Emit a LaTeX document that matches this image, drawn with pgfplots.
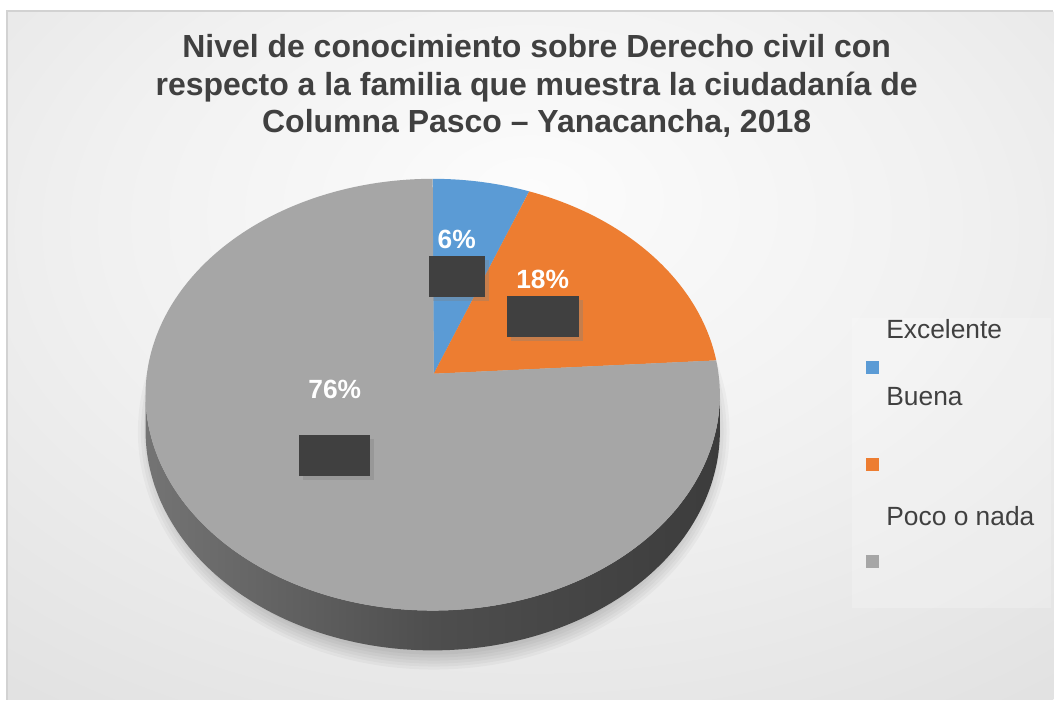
\documentclass[border=0pt]{standalone}
\usepackage{pgfplots}
\pgfplotsset{compat=1.18}
\usepackage{pgfplotstable}
\usepackage{fontspec}
\setmainfont{Liberation Sans}
\usetikzlibrary{shadows}

\definecolor{cBlue}{HTML}{5B9BD5}
\definecolor{cOrange}{HTML}{ED7D31}
\definecolor{cGray}{HTML}{A6A6A6}
\definecolor{txt}{HTML}{404040}
\definecolor{boxc}{HTML}{404040}
\definecolor{sideL}{HTML}{747474}
\definecolor{sideM}{HTML}{4E4E4E}
\definecolor{sideR}{HTML}{3C3C3C}
\definecolor{bg0}{HTML}{FCFCFC}
\definecolor{bg1}{HTML}{F1F1F1}
\definecolor{bg2}{HTML}{E2E2E2}
\definecolor{bg3}{HTML}{D5D5D5}
\definecolor{bg4}{HTML}{C8C8C8}

\pgfdeclareradialshading{bgshade}{\pgfpoint{0bp}{12bp}}{%
  color(0bp)=(bg0); color(20bp)=(bg1); color(40bp)=(bg2); color(62bp)=(bg3); color(80bp)=(bg4); color(100bp)=(bg4)}

\pgfplotstableread{
cat pct
Excelente 6
Buena 18
Poco 76
}\piedata

\begin{document}
\begin{tikzpicture}
\pgfplotstablegetelem{0}{pct}\of\piedata \edef\pA{\pgfplotsretval}
\pgfplotstablegetelem{1}{pct}\of\piedata \edef\pB{\pgfplotsretval}
\pgfplotstablegetelem{2}{pct}\of\piedata \edef\pC{\pgfplotsretval}
\pgfmathsetmacro\aA{3.6*\pA}
\pgfmathsetmacro\aB{\aA+3.6*\pB}
\pgfmathsetmacro\aC{\aB+3.6*\pC}
\begin{axis}[
  scale only axis, width=10.54cm, height=7cm,
  xmin=0, xmax=1054, ymin=0, ymax=700, y dir=reverse,
  axis lines=none, ticks=none, clip=false,
  declare function={
    sc(\t)=1/(1+0.097*cos(\t));
    px(\t)=433+286*sin(\t)*sc(\t);
    py(\t)=374-214*cos(\t)*sc(\t);
    pyb(\t)=py(\t)+36*sc(\t);
    phis(\s)=(\s<=1)*(95.6+168.8*\s)+(\s>1)*(264.4-168.8*(\s-1));
  },
  legend style={at={(axis cs:867,312)}, anchor=north west, draw=none, fill=none,
    inner sep=0pt, outer sep=0pt, row sep=0.64cm, column sep=0.07cm,
    nodes={inner sep=0pt, outer sep=0pt, text height=0.20cm, text depth=0.06cm,
      font=\fontsize{7.5}{9}\selectfont, text=txt}},
  legend cell align=left,
  legend image code/.code={\path[draw=none, fill=none] (0cm,-0.06cm) rectangle (0.13cm,0.20cm);
    \path[#1, draw=none, overlay] (0cm,-0.29cm) rectangle (0.13cm,-0.42cm);},
]
% background panel
\fill[white] (axis cs:0,0) rectangle (axis cs:1054,700);
\shade[shading=bgshade] (axis cs:7,11) rectangle (axis cs:1054,700);
\draw[gray!35, line width=0.4pt] (axis cs:7,700) -- (axis cs:7,11) -- (axis cs:1054,11);
% legend box
\fill[white, opacity=0.22] (axis cs:853,318) rectangle (axis cs:1052,608);
% pie shadow
\pgfplotsinvokeforeach{0,...,5}{
  \fill[black, opacity=0.03] (axis cs:434,432) ellipse [x radius={296-3*#1}, y radius={238-3*#1}];
}
% side of the pie
\addplot[forget plot, draw=none, left color=sideL, right color=sideR, middle color=sideM,
  domain=0:2, samples=241, variable=\t]
  ({px(phis(\t))}, {(\t<=1)*py(phis(\t)) + (\t>1)*pyb(phis(\t))}) -- cycle;
% slices
\addplot[fill=cBlue, draw=none, domain=0:\aA, samples=30, variable=\t]
  ({px(\t)}, {py(\t)}) -- (axis cs:434,374) -- cycle;
\addlegendentry{Excelente}
\addplot[fill=cOrange, draw=none, domain=\aA:\aB, samples=60, variable=\t]
  ({px(\t)}, {py(\t)}) -- (axis cs:434,374) -- cycle;
\addlegendentry{\raisebox{0.30cm}{Buena}}
\addplot[fill=cGray, draw=none, domain=\aB:\aC, samples=200, variable=\t]
  ({px(\t)}, {py(\t)}) -- (axis cs:434,374) -- cycle;
\addlegendentry{\raisebox{0.07cm}{Poco o nada}}
% data label boxes
\node[fill=boxc, minimum width=0.56cm, minimum height=0.41cm, inner sep=0pt,
  drop shadow={shadow xshift=0.04cm, shadow yshift=-0.04cm, opacity=0.35}] at (axis cs:457,277) {};
\node[fill=boxc, minimum width=0.72cm, minimum height=0.41cm, inner sep=0pt,
  drop shadow={shadow xshift=0.04cm, shadow yshift=-0.04cm, opacity=0.35}] at (axis cs:543,317) {};
\node[fill=boxc, minimum width=0.71cm, minimum height=0.41cm, inner sep=0pt,
  drop shadow={shadow xshift=0.04cm, shadow yshift=-0.04cm, opacity=0.35}] at (axis cs:335,456) {};
% percentage labels
\node[text=white, font=\bfseries\fontsize{7.5}{9}\selectfont] at (axis cs:457,240) {6\%};
\node[text=white, font=\bfseries\fontsize{7.5}{9}\selectfont] at (axis cs:543,280) {18\%};
\node[text=white, font=\bfseries\fontsize{7.5}{9}\selectfont] at (axis cs:335,390) {76\%};
% title
\node[align=center, text=txt, font=\bfseries\fontsize{9.1}{10.8}\selectfont] at (axis cs:537,86)
  {Nivel de conocimiento sobre Derecho civil con\\respecto a la familia que muestra la ciudadanía de\\Columna Pasco – Yanacancha, 2018};
\end{axis}
\end{tikzpicture}
\end{document}
